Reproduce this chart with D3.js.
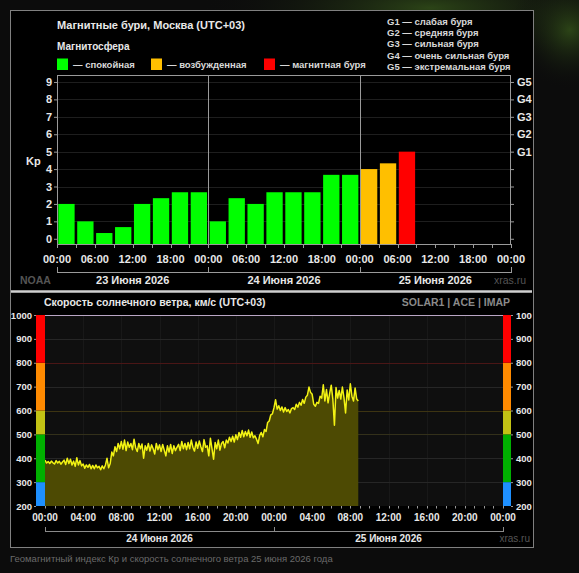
<!DOCTYPE html>
<html><head><meta charset="utf-8">
<script src="https://cdn.jsdelivr.net/npm/d3@7"></script>
<style>
html,body{margin:0;padding:0;background:#0c0c0c;overflow:hidden}
svg{display:block;font-family:"Liberation Sans",Arial,sans-serif}
</style></head><body>
<svg id="c" width="579" height="573"></svg>
<script>
// ---------- DATA ----------
const kpTitle = "Магнитные бури, Москва (UTC+03)";
const kpSubtitle = "Магнитосфера";
const kpLegendLabels = ["— спокойная", "— возбужденная", "— магнитная буря"];
const gLegendLabels = ["G1 — слабая буря", "G2 — средняя буря", "G3 — сильная буря", "G4 — очень сильная буря", "G5 — экстремальная буря"];
const kpDays = ["23 Июня 2026", "24 Июня 2026", "25 Июня 2026"];
const kpTickHours = [0, 6, 12, 18];
const kpAxisTicks = [0, 1, 2, 3, 4, 5, 6, 7, 8, 9];
const gLabels = ["G1", "G2", "G3", "G4", "G5"];
const gLevels = [5, 6, 7, 8, 9];
// Kp per 3-hour interval starting 23 June 00:00
const kpValues = [2, 1, 0.33, 0.67, 2, 2.33, 2.67, 2.67,
                  1, 2.33, 2, 2.67, 2.67, 2.67, 3.67, 3.67,
                  4, 4.33, 5];

const windTitle = "Скорость солнечного ветра, км/с (UTC+03)";
const windSource = "SOLAR1 | ACE | IMAP";
const windDays = ["24 Июня 2026", "25 Июня 2026"];
const windAxisTicks = [200, 300, 400, 500, 600, 700, 800, 900, 1000];
const windStepMinutes = 10;
// solar wind speed km/s, every 10 minutes from 24 June 00:00
const windSpeed = [
  392, 380, 386, 378, 388, 381,
  376, 390, 380, 387, 375, 384,
  392, 374, 400, 378, 396, 372,
  388, 366, 402, 372, 390, 368,
  376, 358, 372, 362, 374, 356,
  370, 356, 372, 360, 366, 352,
  368, 356, 372, 400, 360, 378,
  426, 410, 448, 428, 462, 440,
  470, 438, 476, 432, 468, 446,
  462, 436, 480, 444, 428, 462,
  440, 460, 400, 452, 434, 462,
  430, 456, 440, 418, 462, 436,
  456, 428, 458, 434, 410, 452,
  426, 458, 420, 452, 432, 446,
  458, 432, 470, 440, 462, 436,
  466, 440, 476, 446, 430, 468,
  442, 472, 448, 428, 478, 446,
  452, 410, 484, 440, 396, 466,
  440, 476, 434, 462, 470, 444,
  476, 464, 488, 470, 492, 468,
  498, 478, 508, 488, 516, 490,
  512, 494, 518, 488, 510, 486,
  494, 480, 462, 496, 508, 490,
  520, 512, 550, 556, 582, 586,
  612, 645, 606, 620, 600, 615,
  594, 612, 596, 604, 590, 608,
  612, 604, 626, 614, 634, 622,
  646, 630, 656, 664, 698, 676,
  668, 626, 618, 634, 630, 660,
  652, 708, 640, 688, 632, 672,
  706, 648, 538, 696, 652, 684,
  648, 698, 654, 590, 686, 644,
  712, 660, 640, 694, 648, 640
];
const caption = "Геомагнитный индекс Кр и скорость солнечного ветра 25 июня 2026 года";

// ---------- DRAW ----------
const svg = d3.select("#c");
const HOUR = 3600 * 1000;
const fmt = d3.timeFormat("%H:%M");
const defs = svg.append("defs");

// background glow
const rg = defs.append("radialGradient").attr("id", "glow");
rg.append("stop").attr("offset", "0%").attr("stop-color", "#2f4a18").attr("stop-opacity", 0.9);
rg.append("stop").attr("offset", "100%").attr("stop-color", "#0c0c0c").attr("stop-opacity", 0);
svg.append("ellipse").attr("cx", 430).attr("cy", 8).attr("rx", 230).attr("ry", 55).attr("fill", "url(#glow)");
svg.append("ellipse").attr("cx", 570).attr("cy", 30).attr("rx", 60).attr("ry", 60).attr("fill", "url(#glow)");

// panel
svg.append("rect").attr("x", 10.5).attr("y", 10.5).attr("width", 523).attr("height", 537)
  .attr("fill", "#000").attr("stroke", "#808080");
defs.append("clipPath").attr("id", "panelClip").append("rect")
  .attr("x", 11).attr("y", 11).attr("width", 521).attr("height", 536);

const g = svg.append("g").attr("clip-path", "url(#panelClip)");

// ===== TOP: Kp chart =====
const kpStart = new Date(2026, 5, 23, 0, 0);
const kpEnd = new Date(2026, 5, 26, 0, 0);
const x1 = d3.scaleTime().domain([kpStart, kpEnd]).range([57, 511]);
const y1 = d3.scaleLinear().domain([-0.3, 9.4]).range([244, 75]);
const kpColor = v => v >= 5 ? "#ff0000" : (v >= 4 ? "#ffbf00" : "#00ff00");
const white = "#e8e8e8";

g.append("text").attr("x", 57).attr("y", 29).attr("fill", white)
  .attr("font-size", 11).attr("font-weight", "bold").text(kpTitle);
g.append("text").attr("x", 57).attr("y", 50).attr("fill", white)
  .attr("font-size", 10).attr("font-weight", "bold").text(kpSubtitle);
const legX = [57, 151, 264];
const legCol = ["#00ff00", "#ffbf00", "#ff0000"];
kpLegendLabels.forEach((t, i) => {
  g.append("rect").attr("x", legX[i]).attr("y", 58.5).attr("width", 11).attr("height", 11.5).attr("fill", legCol[i]);
  g.append("text").attr("x", legX[i] + 16).attr("y", 68).attr("fill", "#d8d8d8")
    .attr("font-size", 9.5).attr("font-weight", "bold").text(t);
});
gLegendLabels.forEach((t, i) => {
  g.append("text").attr("x", 387).attr("y", 25 + i * 11.2).attr("fill", "#d8d8d8")
    .attr("font-size", 9.5).attr("font-weight", "bold").text(t);
});

// grid
g.append("g").selectAll("line").data(kpAxisTicks.slice(1)).join("line")
  .attr("x1", 57).attr("x2", 511).attr("y1", d => Math.round(y1(d)) + 0.5).attr("y2", d => Math.round(y1(d)) + 0.5)
  .attr("stroke", "#1e1e1e");

// bars
const slots = kpValues.map((v, i) => ({ v, t0: new Date(+kpStart + i * 3 * HOUR), t1: new Date(+kpStart + (i + 1) * 3 * HOUR) }));
g.append("g").selectAll("rect").data(slots).join("rect")
  .attr("x", d => x1(d.t0) + 1.3)
  .attr("width", d => x1(d.t1) - x1(d.t0) - 2.6)
  .attr("y", d => y1(d.v))
  .attr("height", d => 244 - y1(d.v))
  .attr("fill", d => kpColor(d.v));

// frame
g.append("line").attr("x1", 57).attr("x2", 511).attr("y1", 75.5).attr("y2", 75.5).attr("stroke", "#9a9a9a");
g.append("line").attr("x1", 57.5).attr("x2", 57.5).attr("y1", 75).attr("y2", 245).attr("stroke", "#9a9a9a");
g.append("line").attr("x1", 510.5).attr("x2", 510.5).attr("y1", 75).attr("y2", 245).attr("stroke", "#9a9a9a");
g.append("line").attr("x1", 57).attr("x2", 511).attr("y1", 244.5).attr("y2", 244.5).attr("stroke", "#9a9a9a");
const dayBounds = d3.range(1, kpDays.length).map(i => new Date(+kpStart + i * 24 * HOUR));
g.append("g").selectAll("line").data(dayBounds).join("line")
  .attr("x1", d => Math.round(x1(d)) + 0.5).attr("x2", d => Math.round(x1(d)) + 0.5)
  .attr("y1", 75).attr("y2", 244).attr("stroke", "#9a9a9a");

// y axes
const yl = g.append("g").attr("transform", "translate(57,0)")
  .call(d3.axisLeft(y1).tickValues(kpAxisTicks).tickSize(3).tickPadding(2).tickFormat(d3.format("d")));
const yr = g.append("g").attr("transform", "translate(511,0)")
  .call(d3.axisRight(y1).tickValues(kpAxisTicks).tickSize(3).tickPadding(3)
    .tickFormat(d => { const k = gLevels.indexOf(d); return k >= 0 ? gLabels[k] : ""; }));
[yl, yr].forEach(a => {
  a.select(".domain").remove();
  a.selectAll("line").attr("stroke", "#9a9a9a");
  a.selectAll("text").attr("fill", white).attr("font-size", 11).attr("font-weight", "bold")
    .attr("font-family", "Liberation Sans, Arial, sans-serif");
});
g.append("text").attr("x", 26).attr("y", 165).attr("fill", white)
  .attr("font-size", 11).attr("font-weight", "bold").text("Kp");

// x axis
const kpTicks3 = d3.range(0, 25).map(i => new Date(+kpStart + i * 3 * HOUR));
g.append("g").selectAll("line").data(kpTicks3).join("line")
  .attr("x1", d => Math.round(x1(d)) + 0.5).attr("x2", d => Math.round(x1(d)) + 0.5)
  .attr("y1", 244).attr("y2", 248).attr("stroke", "#9a9a9a");
const kpLabelTimes = [];
for (let dd = 0; dd < kpDays.length; dd++) kpTickHours.forEach(h => kpLabelTimes.push(new Date(+kpStart + (dd * 24 + h) * HOUR)));
kpLabelTimes.push(kpEnd);
g.append("g").selectAll("text").data(kpLabelTimes).join("text")
  .attr("x", d => x1(d)).attr("y", 263).attr("text-anchor", "middle")
  .attr("fill", white).attr("font-size", 11).attr("font-weight", "bold").text(d => fmt(d));
// bracket
g.append("line").attr("x1", 57).attr("x2", 511).attr("y1", 272.5).attr("y2", 272.5).attr("stroke", "#9a9a9a");
const kpDayEdges = d3.range(0, kpDays.length + 1).map(i => new Date(+kpStart + i * 24 * HOUR));
g.append("g").selectAll("line").data(kpDayEdges).join("line")
  .attr("x1", d => Math.round(x1(d)) + 0.5).attr("x2", d => Math.round(x1(d)) + 0.5)
  .attr("y1", 267).attr("y2", 273).attr("stroke", "#9a9a9a");
g.append("g").selectAll("text").data(kpDays).join("text")
  .attr("x", (d, i) => (x1(kpDayEdges[i]) + x1(kpDayEdges[i + 1])) / 2).attr("y", 284)
  .attr("text-anchor", "middle").attr("fill", white).attr("font-size", 11).attr("font-weight", "bold").text(d => d);
g.append("text").attr("x", 20).attr("y", 284).attr("fill", "#555").attr("font-size", 10.5).attr("font-weight", "bold").text("NOAA");
g.append("text").attr("x", 526).attr("y", 284).attr("text-anchor", "end").attr("fill", "#555").attr("font-size", 10.5).text("xras.ru");

// separator
g.append("line").attr("x1", 11).attr("x2", 534).attr("y1", 291.5).attr("y2", 291.5).attr("stroke", "#d0d0d0").attr("stroke-width", 2.5);

// ===== BOTTOM: Solar wind =====
const wStart = new Date(2026, 5, 24, 0, 0);
const wEnd = new Date(2026, 5, 26, 0, 0);
const x2 = d3.scaleTime().domain([wStart, wEnd]).range([45, 503]);
const y2 = d3.scaleLinear().domain([200, 1000]).range([506, 315]);

g.append("text").attr("x", 44).attr("y", 306).attr("fill", white)
  .attr("font-size", 10.5).attr("font-weight", "bold").text(windTitle);
g.append("text").attr("x", 510).attr("y", 306).attr("text-anchor", "end").attr("fill", "#8a8a8a")
  .attr("font-size", 10.5).attr("font-weight", "bold").text(windSource);

g.append("rect").attr("x", 45).attr("y", 315).attr("width", 458).attr("height", 191).attr("fill", "#0f0f0f");

// vertical faint grid
const w4h = d3.range(1, 12).map(i => new Date(+wStart + i * 4 * HOUR));
g.append("g").selectAll("line").data(w4h).join("line")
  .attr("x1", d => Math.round(x2(d)) + 0.5).attr("x2", d => Math.round(x2(d)) + 0.5)
  .attr("y1", 315).attr("y2", 506).attr("stroke", "#181818");
// horizontal grid
const gridCol = v => v === 800 ? "#4a1616" : (v === 600 ? "#3d3412" : (v === 500 ? "#33301a" : "#262626"));
g.append("g").selectAll("line").data(windAxisTicks.filter(v => v > 200 && v < 1000)).join("line")
  .attr("x1", 45).attr("x2", 503).attr("y1", d => Math.round(y2(d)) + 0.5).attr("y2", d => Math.round(y2(d)) + 0.5)
  .attr("stroke", d => gridCol(d));
g.append("line").attr("x1", 45).attr("x2", 503).attr("y1", 315.5).attr("y2", 315.5).attr("stroke", "#b9a6c4");

// wind area + line
const windPts = windSpeed.map((v, i) => ({ t: new Date(+wStart + i * windStepMinutes * 60000), v }));
g.append("path").datum(windPts)
  .attr("d", d3.area().x(d => x2(d.t)).y0(y2(200)).y1(d => y2(d.v)))
  .attr("fill", "#4d4a03");
g.append("path").datum(windPts)
  .attr("d", d3.line().x(d => x2(d.t)).y(d => y2(d.v)))
  .attr("fill", "none").attr("stroke", "#f2f214").attr("stroke-width", 1.5).attr("stroke-linejoin", "round");

// colour bands
const bands = [[200, 300, "#1e90ff"], [300, 500, "#00b000"], [500, 600, "#c2c214"], [600, 800, "#ff8a00"], [800, 1000, "#ff0000"]];
[[36, 9], [503, 8]].forEach(([bx, bw]) => {
  g.append("g").selectAll("rect").data(bands).join("rect")
    .attr("x", bx).attr("width", bw)
    .attr("y", d => y2(d[1])).attr("height", d => y2(d[0]) - y2(d[1]))
    .attr("fill", d => d[2]);
});

// y labels
const wl = g.append("g").attr("transform", "translate(36,0)")
  .call(d3.axisLeft(y2).tickValues(windAxisTicks).tickSize(2).tickPadding(2).tickFormat(d3.format("d")));
const wr = g.append("g").attr("transform", "translate(511,0)")
  .call(d3.axisRight(y2).tickValues(windAxisTicks).tickSize(2).tickPadding(3).tickFormat(d3.format("d")));
[wl, wr].forEach(a => {
  a.select(".domain").remove();
  a.selectAll("line").attr("stroke", "#9a9a9a");
  a.selectAll("text").attr("fill", white).attr("font-size", 9.5).attr("font-weight", "bold")
    .attr("font-family", "Liberation Sans, Arial, sans-serif");
});

// x ticks
const w1h = d3.range(0, 49).map(i => new Date(+wStart + i * HOUR));
g.append("g").selectAll("line").data(w1h).join("line")
  .attr("x1", d => Math.round(x2(d)) + 0.5).attr("x2", d => Math.round(x2(d)) + 0.5)
  .attr("y1", 506).attr("y2", 508.5).attr("stroke", "#9a9a9a");
const wLabelTimes = d3.range(0, 13).map(i => new Date(+wStart + i * 4 * HOUR));
g.append("g").selectAll("text").data(wLabelTimes).join("text")
  .attr("x", d => x2(d)).attr("y", 521).attr("text-anchor", "middle")
  .attr("fill", white).attr("font-size", 10).attr("font-weight", "bold").text(d => fmt(d));
g.append("line").attr("x1", 45).attr("x2", 503).attr("y1", 531.5).attr("y2", 531.5).attr("stroke", "#8a8a8a");
const wDayEdges = d3.range(0, windDays.length + 1).map(i => new Date(+wStart + i * 24 * HOUR));
g.append("g").selectAll("line").data(wDayEdges).join("line")
  .attr("x1", d => Math.round(x2(d)) + 0.5).attr("x2", d => Math.round(x2(d)) + 0.5)
  .attr("y1", 527).attr("y2", 532).attr("stroke", "#8a8a8a");
g.append("g").selectAll("text").data(windDays).join("text")
  .attr("x", (d, i) => (x2(wDayEdges[i]) + x2(wDayEdges[i + 1])) / 2).attr("y", 542)
  .attr("text-anchor", "middle").attr("fill", white).attr("font-size", 10).attr("font-weight", "bold").text(d => d);
g.append("text").attr("x", 530).attr("y", 542).attr("text-anchor", "end").attr("fill", "#555").attr("font-size", 10).text("xras.ru");

// caption
svg.append("text").attr("x", 10).attr("y", 562).attr("fill", "#6a6a6a").attr("font-size", 9.5)
  .attr("font-family", "Liberation Sans, Arial, sans-serif").text(caption);
</script>
</body></html>
